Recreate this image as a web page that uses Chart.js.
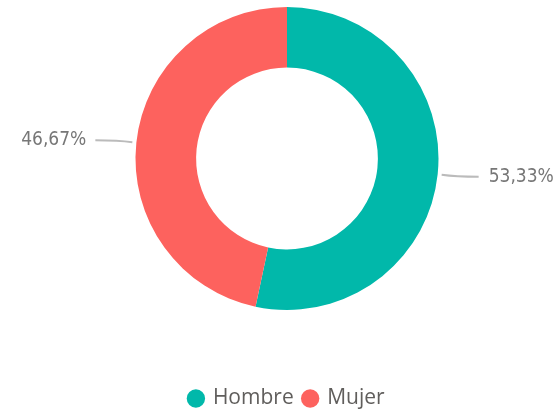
<!DOCTYPE html>
<html>
<head>
<meta charset="utf-8">
<script src="https://cdn.jsdelivr.net/npm/chart.js@4"></script>
<style>
  html, body { margin: 0; padding: 0; background: #fff; }
  #wrap { width: 559px; height: 412px; }
</style>
</head>
<body>
<div id="wrap"><canvas id="chart"></canvas></div>
<script>
const categories = ['Hombre', 'Mujer'];
const shares = [53.33, 46.67];
const shareLabels = ['53,33%', '46,67%'];
const colors = ['#01B8AA', '#FD625E'];

// etiquetas con línea guía fuera del anillo
const outsideLabels = {
  id: 'outsideLabels',
  afterDatasetsDraw(chart) {
    const ctx = chart.ctx;
    const meta = chart.getDatasetMeta(0);
    ctx.save();
    ctx.font = '19px "DejaVu Sans Condensed", "Liberation Sans Narrow", sans-serif';
    ctx.textBaseline = 'middle';
    meta.data.forEach((arc, i) => {
      const mid = (arc.startAngle + arc.endAngle) / 2;
      const r = arc.outerRadius + 4;
      const x0 = arc.x + Math.cos(mid) * r;
      const y0 = arc.y + Math.sin(mid) * r;
      const right = Math.cos(mid) >= 0;
      const dy = right ? 2 : -2;
      const x1 = x0 + (right ? 37 : -37);
      ctx.strokeStyle = '#BBBBBB';
      ctx.lineWidth = 1.8;
      ctx.beginPath();
      ctx.moveTo(x0, y0);
      ctx.quadraticCurveTo(x0 + (right ? 14 : -14), y0 + dy, x1, y0 + dy);
      ctx.stroke();
      ctx.fillStyle = '#777777';
      ctx.textAlign = right ? 'left' : 'right';
      ctx.fillText(shareLabels[i], x1 + (right ? 10 : -9), y0 + dy);
    });
    ctx.restore();
  }
};

const ctx = document.getElementById('chart').getContext('2d');
new Chart(ctx, {
  type: 'doughnut',
  data: {
    labels: categories,
    datasets: [{
      data: shares,
      backgroundColor: colors,
      borderWidth: 0
    }]
  },
  options: {
    responsive: true,
    maintainAspectRatio: false,
    animation: false,
    cutout: '60%',
    layout: { padding: { top: 7, left: 15, right: 0, bottom: -7 } },
    plugins: {
      tooltip: { enabled: false },
      legend: {
        position: 'bottom',
        // título vacío solo para separar la leyenda del anillo
        title: { display: true, text: ' ', font: { size: 10 }, padding: { top: 56, bottom: 0 } },
        labels: {
          usePointStyle: true,
          pointStyle: 'circle',
          boxWidth: 13,
          boxHeight: 13,
          padding: 10,
          color: '#605E5C',
          font: { family: '"Open Sans", sans-serif', size: 21 }
        }
      }
    }
  },
  plugins: [outsideLabels]
});
</script>
</body>
</html>
